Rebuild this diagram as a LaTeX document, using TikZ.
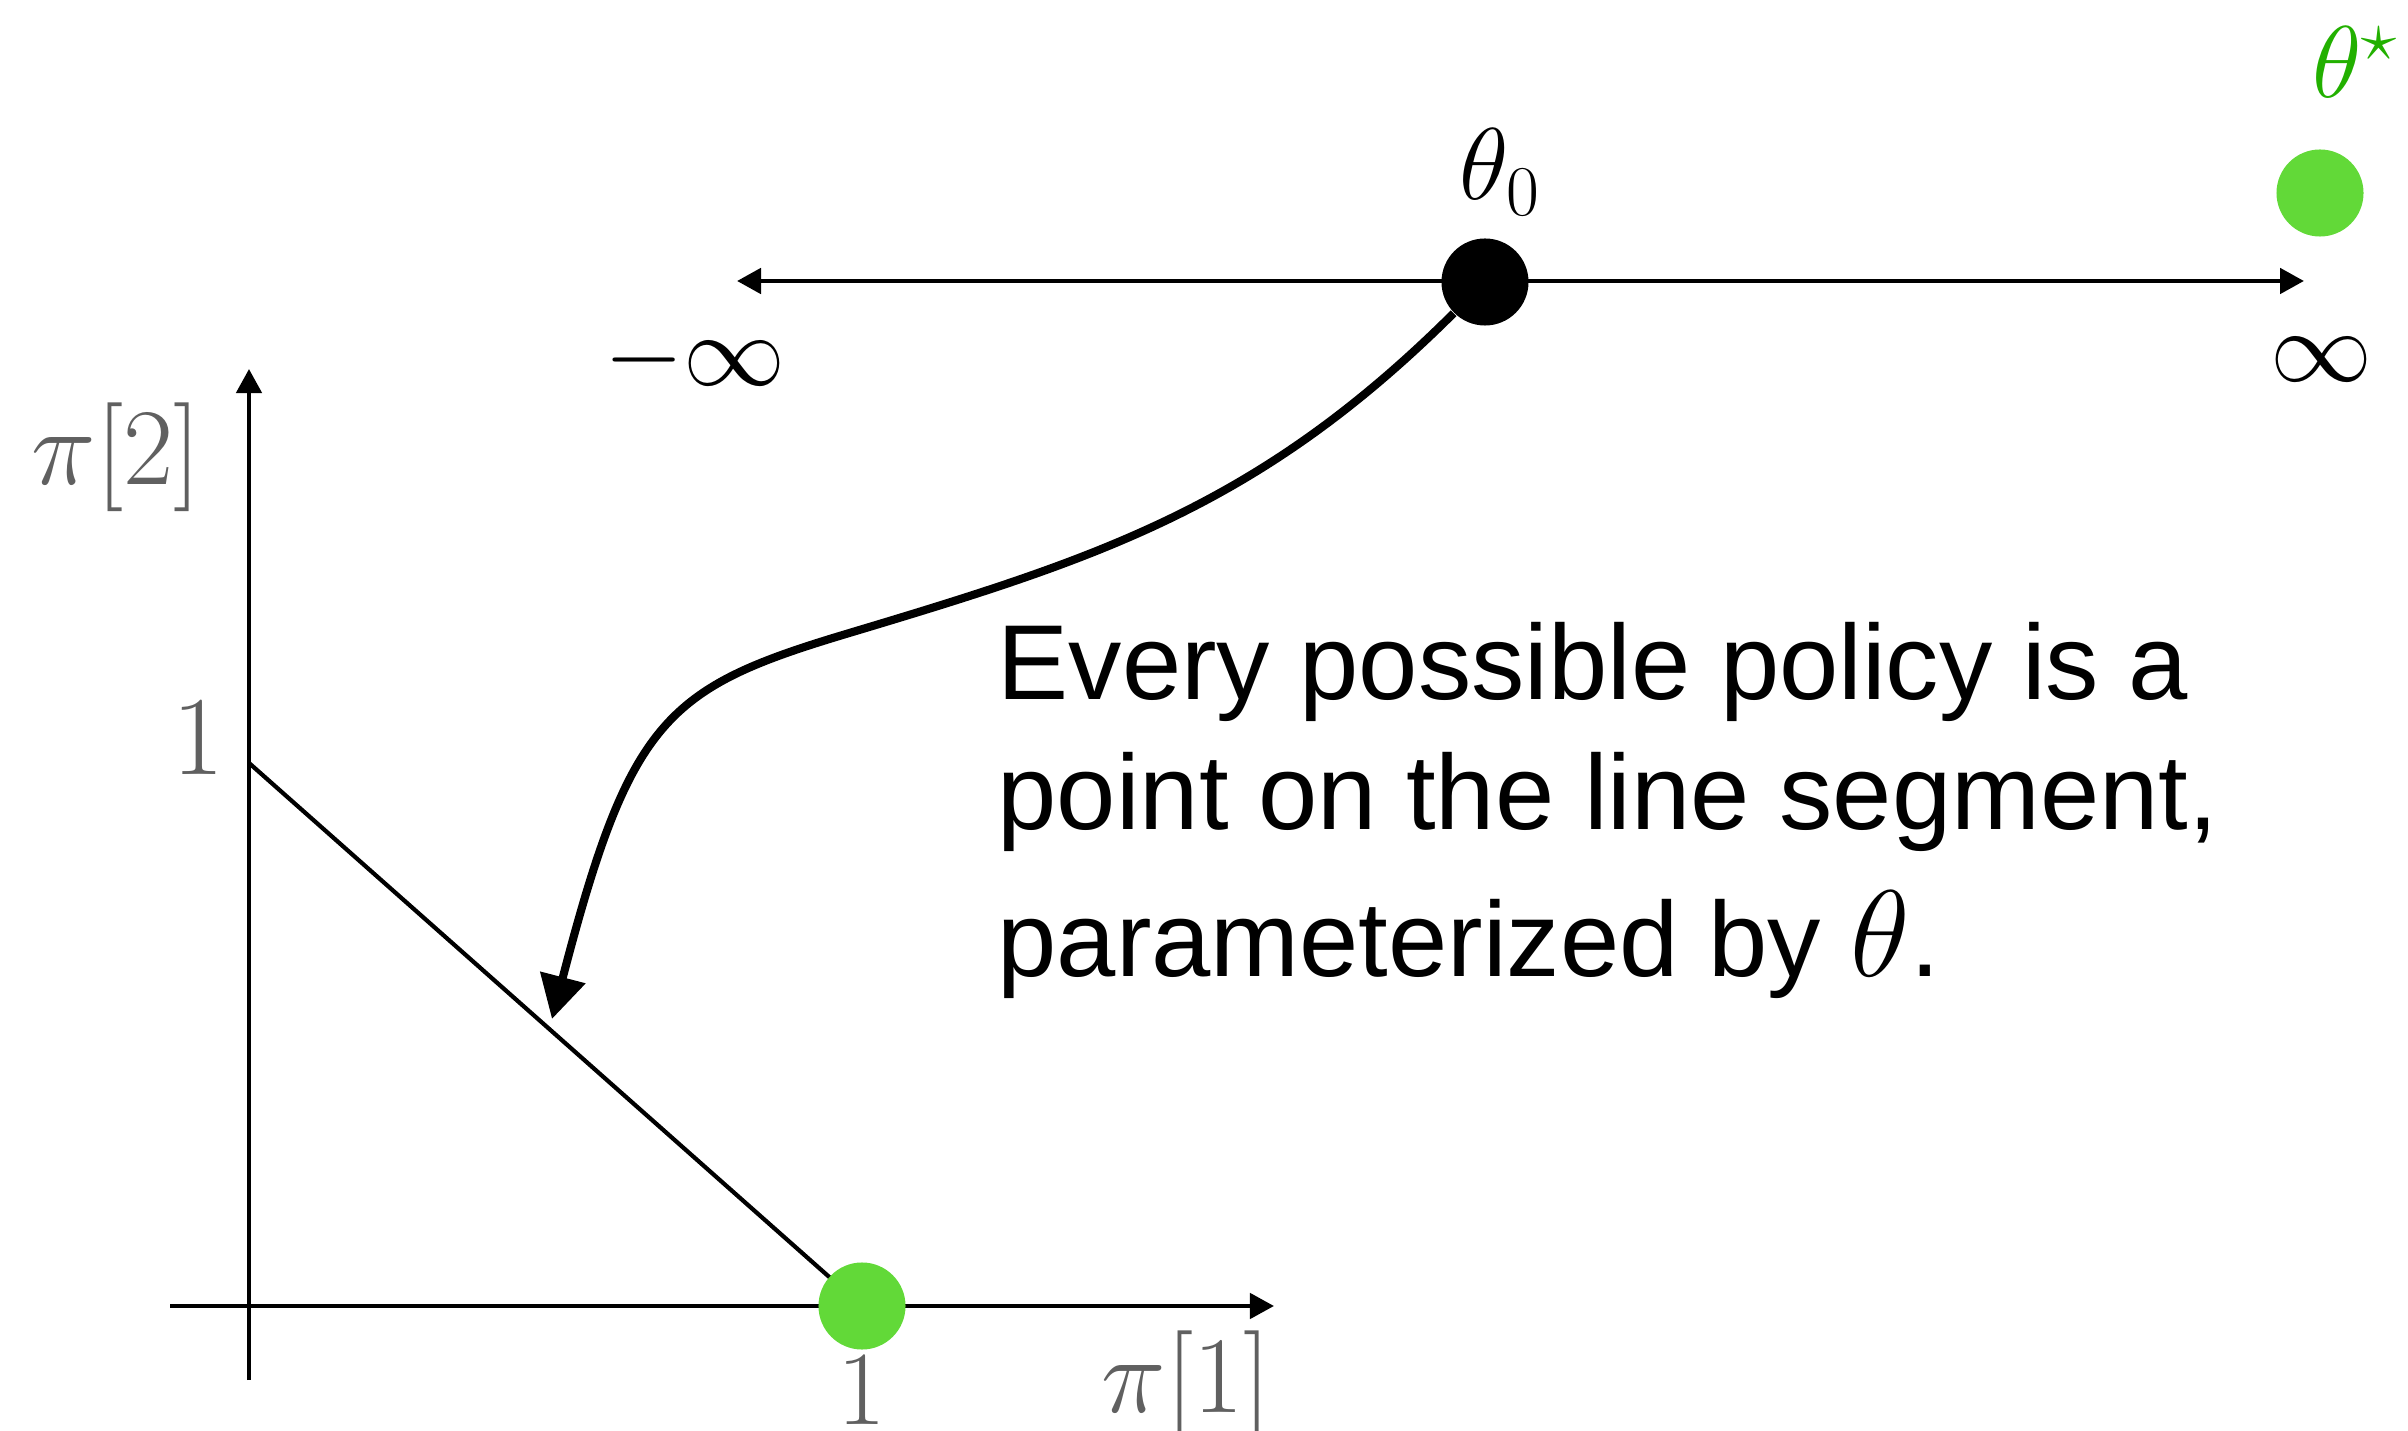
\RequirePackage{fix-cm}
\documentclass[tikz,border=0pt]{standalone}
\usepackage{fontspec}
\usetikzlibrary{arrows.meta}
\newfontfamily\helv{Liberation Sans}
\definecolor{dotgreen}{RGB}{98,217,56}
\definecolor{labgreen}{RGB}{34,176,0}
\definecolor{labgrey}{RGB}{96,96,96}
\begin{document}
\begin{tikzpicture}[x=0.01cm,y=-0.01cm,
  thinarrow/.style={line width=1.3pt,-{Triangle[length=0.24cm,width=0.25cm]}},
  dblarrow/.style={line width=1.4pt,{Triangle[length=0.24cm,width=0.25cm]}-{Triangle[length=0.24cm,width=0.25cm]}},
  mathlab/.style={inner sep=0pt,font=\fontsize{29}{29}\selectfont},
  greylab/.style={inner sep=0pt,text=labgrey,font=\fontsize{31}{31}\selectfont},
  caption/.style={inner sep=0pt,anchor=base west,font=\helv\fontsize{30.3}{36}\selectfont},
  dotnode/.style={circle,inner sep=0pt,minimum size=0.87cm},
  bigarrow/.style={line width=2.3pt,-{Triangle[length=0.43cm,width=0.45cm]}}]
\useasboundingbox (0,0) rectangle (2408,1431);
% top parameter line
\coordinate (tl) at (737,281);
\coordinate (tr) at (2304,281);
\draw[dblarrow] (tl) -- (tr);
\node[dotnode,fill=black] (t0) at (1485,282) {};
\node[mathlab] (t0lab) at (1500,172) {$\theta_0$};
\node[dotnode,fill=dotgreen] (tstar) at (2320,193) {};
\node[mathlab,text=labgreen] (tstarlab) at (2355,62) {$\theta^\star$};
\node[mathlab] (minf) at (695,360) {$-\infty$};
\node[mathlab] (pinf) at (2321,360) {$\infty$};
% axes
\coordinate (yb) at (249,1380);
\coordinate (yt) at (249,369);
\coordinate (xl) at (170,1306);
\coordinate (xr) at (1274,1306);
\draw[thinarrow] (yb) -- (yt);
\draw[thinarrow] (xl) -- (xr);
\coordinate (p2) at (249,763);
\coordinate (p1c) at (862,1306);
\draw[line width=1.2pt] (p2) -- (p1c);
\node[dotnode,fill=dotgreen] (p1) at (p1c) {};
\node[greylab,font=\fontsize{32}{32}\selectfont] (one2) at (198,737) {1};
\node[greylab,font=\fontsize{30}{30}\selectfont] (one1) at (862,1390) {1};
\node[greylab] (pi2) at (116,457) {$\pi[2]$};
\node[greylab] (pi1) at (1186,1385) {$\pi[1]$};
% curved arrow
\coordinate (tip) at (552,1019);
\draw[bigarrow] (t0) .. controls (1258,508) and (1096,559) .. (846,634)
  .. controls (666,688) and (630,719) .. (tip);
% caption
\node[caption] (c1) at (997,700) {Every possible policy is a};
\node[caption] (c2) at (997,830) {point on the line segment,};
\node[caption] (c3) at (997,977) {parameterized by {\fontsize{35}{35}\selectfont$\theta$}.};
\end{tikzpicture}
\end{document}
